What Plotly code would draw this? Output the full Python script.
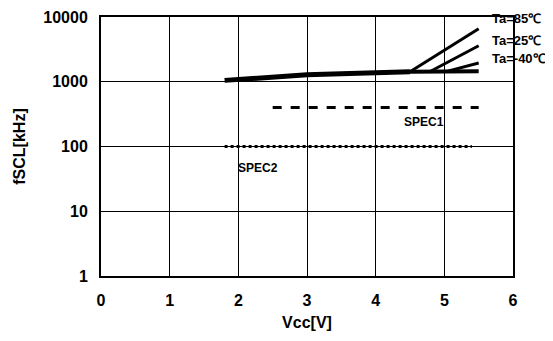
import math
import plotly.graph_objects as go

# Data
vcc_common = [1.8, 2.5, 3.0, 3.5, 4.0, 4.5]
f_common = [1050, 1200, 1280, 1330, 1380, 1430]

vcc_85 = [4.5, 5.5]
f_85 = [1430, 6600]
vcc_25 = [4.8, 5.5]
f_25 = [1450, 3600]
vcc_m40 = [5.05, 5.5]
f_m40 = [1460, 1950]
vcc_base = [4.5, 5.5]
f_base = [1430, 1450]

spec1_x = [2.5, 5.5]
spec1_y = [400, 400]
spec2_x = [1.8, 5.4]
spec2_y = [100, 100]

x_ticks = [0, 1, 2, 3, 4, 5, 6]
y_ticks = [1, 10, 100, 1000, 10000]
y_tick_labels = ["1", "10", "100", "1000", "10000"]

labels = ["Ta=85℃", "Ta=25℃", "Ta=-40℃"]
label_y = [9600, 4400, 2300]

FF = "Liberation Sans, Arial, sans-serif"

fig = go.Figure()
fig.add_trace(go.Scatter(x=vcc_common, y=f_common, mode="lines", line=dict(color="black", width=5)))
fig.add_trace(go.Scatter(x=vcc_85, y=f_85, mode="lines", line=dict(color="black", width=3)))
fig.add_trace(go.Scatter(x=vcc_25, y=f_25, mode="lines", line=dict(color="black", width=3)))
fig.add_trace(go.Scatter(x=vcc_m40, y=f_m40, mode="lines", line=dict(color="black", width=3)))
fig.add_trace(go.Scatter(x=vcc_base, y=f_base, mode="lines", line=dict(color="black", width=4)))
fig.add_trace(go.Scatter(x=spec1_x, y=spec1_y, mode="lines", line=dict(color="black", width=3, dash="dash")))
fig.add_trace(go.Scatter(x=spec2_x, y=spec2_y, mode="lines", line=dict(color="black", width=3, dash="dot")))

for t, yv in zip(labels, label_y):
    fig.add_annotation(x=5.67 / 6, y=math.log10(yv) / 4, xref="paper", yref="paper", yanchor="middle",
                       xanchor="left", text=f"<b>{t}</b>", showarrow=False,
                       font=dict(family=FF, size=13, color="black"))
fig.add_annotation(x=4.7, y=math.log10(235), xref="x", yref="y", text="<b>SPEC1</b>", showarrow=False,
                   xanchor="center", font=dict(family=FF, size=12, color="black"))
fig.add_annotation(x=2.28, y=math.log10(46), xref="x", yref="y", text="<b>SPEC2</b>", showarrow=False,
                   xanchor="center", font=dict(family=FF, size=12, color="black"))

# page body has an 8px margin; compensate so the plot area lands where the reference has it
fig.update_layout(
    width=545, height=333,
    margin=dict(l=93, r=40, t=9, b=65),
    paper_bgcolor="white", plot_bgcolor="white",
    showlegend=False,
    font=dict(family=FF, size=12, color="black"),
    xaxis=dict(range=[0, 6], tickvals=x_ticks, ticktext=[f"<b>{v}</b>" for v in x_ticks],
               showgrid=True, gridcolor="black", gridwidth=1, zeroline=False,
               showline=True, linecolor="black", linewidth=2, mirror=True, automargin=False,
               ticks="", tickfont=dict(size=16), ticklabelstandoff=9,
               title=dict(text="<b>Vcc[V]</b>", font=dict(size=16), standoff=9)),
    yaxis=dict(type="log", range=[0, 4], tickvals=y_ticks, ticktext=[f"<b>{v}</b>" for v in y_tick_labels],
               showgrid=True, gridcolor="black", gridwidth=1, zeroline=False,
               showline=True, linecolor="black", linewidth=2, mirror=True, automargin=False,
               ticks="", tickfont=dict(size=16), ticklabelstandoff=8,
               title=dict(text="<b>fSCL[kHz]</b>", font=dict(size=16), standoff=14)),
)

fig.write_html("out.html")
